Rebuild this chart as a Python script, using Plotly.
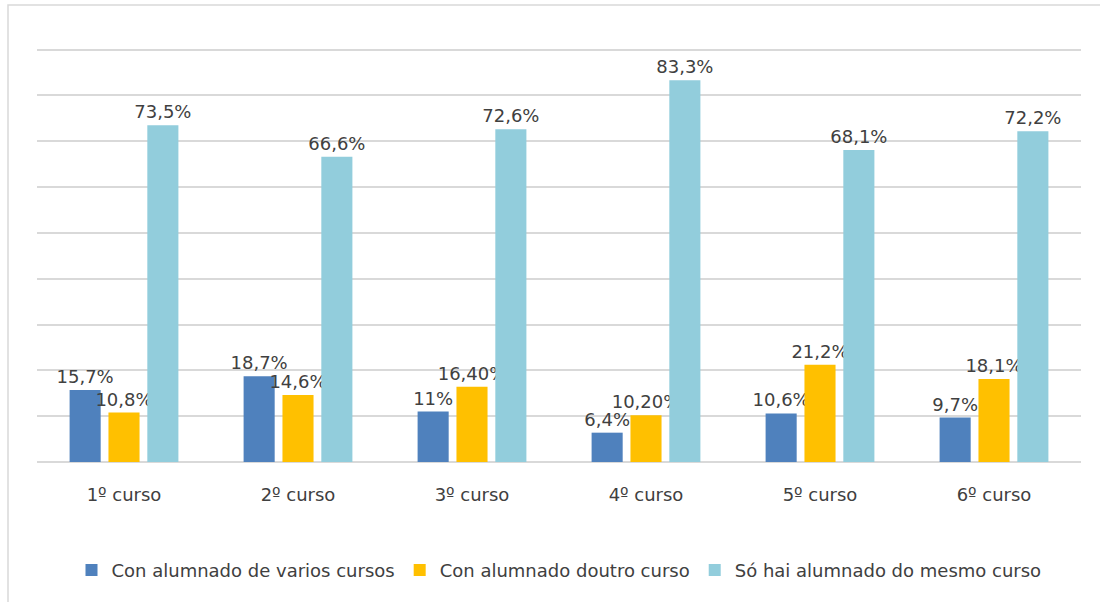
import plotly.graph_objects as go

# Course categories along the x axis
cursos = ["1º curso", "2º curso", "3º curso", "4º curso", "5º curso", "6º curso"]

# Percentages per series
varios_cursos = [15.7, 18.7, 11.0, 6.4, 10.6, 9.7]
doutro_curso = [10.8, 14.6, 16.4, 10.2, 21.2, 18.1]
mesmo_curso = [73.5, 66.6, 72.6, 83.3, 68.1, 72.2]

# Data labels exactly as printed
varios_labels = ["15,7%", "18,7%", "11%", "6,4%", "10,6%", "9,7%"]
doutro_labels = ["10,8%", "14,6%", "16,40%", "10,20%", "21,2%", "18,1%"]
mesmo_labels = ["73,5%", "66,6%", "72,6%", "83,3%", "68,1%", "72,2%"]

series = [
    ("Con alumnado de varios cursos", varios_cursos, varios_labels, "#4F81BD"),
    ("Con alumnado doutro curso", doutro_curso, doutro_labels, "#FFC000"),
    ("Só hai alumnado do mesmo curso", mesmo_curso, mesmo_labels, "#92CDDC"),
]

FONT = "DejaVu Sans"
TEXT_COLOR = "#404040"

fig = go.Figure()
for name, vals, labels, color in series:
    fig.add_trace(
        go.Bar(
            x=cursos,
            y=vals,
            name=name,
            marker={"color": color, "line": {"width": 0}},
            text=labels,
            textposition="outside",
            constraintext="none",
            cliponaxis=False,
            textfont={"family": FONT, "size": 18, "color": TEXT_COLOR},
        )
    )

fig.update_layout(
    width=1100,
    height=602,
    margin={"l": 37, "r": 19, "t": 45, "b": 140},
    paper_bgcolor="white",
    plot_bgcolor="white",
    barmode="group",
    bargap=0.33,
    bargroupgap=0.2,
    font={"family": FONT, "color": TEXT_COLOR},
    legend={
        "orientation": "h",
        "x": 0.5,
        "xanchor": "center",
        "y": -0.26,
        "yanchor": "middle",
        "font": {"family": FONT, "size": 18, "color": TEXT_COLOR},
        "itemwidth": 30,
        "traceorder": "normal",
    },
    showlegend=True,
    shapes=[
        # outer chart border (only top and left edges visible in the crop)
        {
            "type": "rect",
            "xref": "paper",
            "yref": "paper",
            "x0": -29 / 1044,
            "x1": 1.2,
            "y0": -0.5,
            "y1": 1 + 40 / 417,
            "line": {"color": "#D9D9D9", "width": 1.5},
            "fillcolor": "rgba(0,0,0,0)",
            "layer": "below",
        }
    ],
)

fig.update_yaxes(
    range=[0, 91],
    dtick=10,
    showticklabels=False,
    showgrid=True,
    gridcolor="#D9D9D9",
    gridwidth=1.5,
    zeroline=True,
    zerolinecolor="#D9D9D9",
    zerolinewidth=1.5,
)
fig.update_xaxes(
    showline=False,
    tickfont={"family": FONT, "size": 18, "color": TEXT_COLOR},
    ticks="",
    ticklabelstandoff=20,
)

fig.write_html(
    "out.html",
    config={"displayModeBar": False},
    post_script="document.body.style.margin='0';document.body.style.overflow='hidden';",
)
